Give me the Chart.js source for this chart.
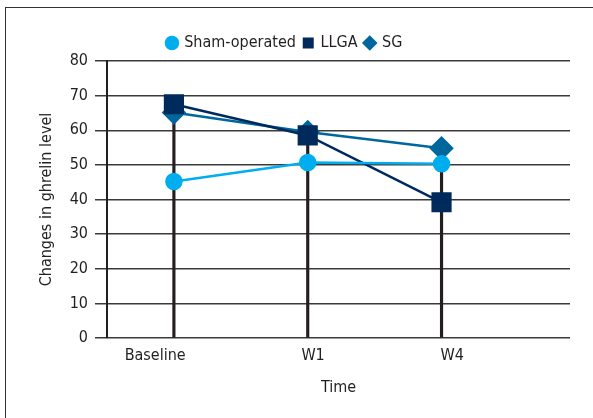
<!DOCTYPE html>
<html>
<head>
<meta charset="utf-8">
<script src="https://cdn.jsdelivr.net/npm/chart.js@4"></script>
<style>
    body { margin: 0; background: #fff; }
    #wrap { position: relative; width: 593px; height: 418px; overflow: hidden; }
    #frame { position: absolute; left: 5px; top: 7px; width: 600px; height: 420px; border: 1.5px solid #333; }
    #chart { position: absolute; left: 0; top: 0; }
</style>
</head>
<body>
<div id="wrap">
    <div id="frame"></div>
    <canvas id="chart" width="593" height="418"></canvas>
</div>
<script>
// 데이터
const timeLabels = ["Baseline", "W1", "W4"];
const shamValues = [45.2, 50.7, 50.3];
const llgaValues = [67.5, 58.5, 39.2];
const sgValues = [65.1, 59.5, 54.8];
const yTicks = [0, 10, 20, 30, 40, 50, 60, 70, 80];

const FONT = "'Liberation Sans Narrow', 'DejaVu Sans Condensed', 'Open Sans', sans-serif";
const labelShift = [-0.14, 0.04, 0.08]; // 눈금 라벨 위치 보정

const toPoints = arr => arr.map((v, i) => ({ x: i, y: v }));
const dropTop = timeLabels.map((_, i) => Math.max(shamValues[i], llgaValues[i], sgValues[i]));

new Chart(document.getElementById("chart"), {
    type: "line",
    data: {
        datasets: [
            {
                label: "Sham-operated",
                data: toPoints(shamValues),
                borderColor: "#00adee",
                backgroundColor: "#00adee",
                borderWidth: 2.5,
                pointStyle: "circle",
                pointRadius: 7.5,
                order: 1
            },
            {
                label: "LLGA",
                data: toPoints(llgaValues),
                borderColor: "#002a5c",
                backgroundColor: "#002a5c",
                borderWidth: 2.5,
                pointStyle: "rect",
                pointRadius: 12.5,
                order: 1
            },
            {
                label: "SG",
                data: toPoints(sgValues),
                borderColor: "#00679d",
                backgroundColor: "#00679d",
                borderWidth: 2.5,
                pointStyle: "rectRot",
                pointRadius: 10.5,
                order: 1
            },
            {
                type: "bar",
                label: "drop",
                data: toPoints(dropTop),
                backgroundColor: "#231f20",
                barThickness: 2.5,
                order: 10
            }
        ]
    },
    options: {
        responsive: false,
        animation: false,
        layout: { padding: { left: 0, right: 23, top: 27, bottom: 0 } },
        plugins: {
            tooltip: { enabled: false },
            legend: {
                labels: {
                    usePointStyle: true,
                    boxWidth: 8.5,
                    boxHeight: 8.5,
                    padding: 8,
                    color: "#231f20",
                    font: { family: FONT, size: 16 },
                    filter: item => item.text !== "drop"
                }
            }
        },
        scales: {
            x: {
                type: "linear",
                min: -0.5,
                max: 2.96,
                offset: false,
                afterBuildTicks: scale => {
                    scale.ticks = timeLabels.map((_, i) => ({ value: i + labelShift[i] }));
                },
                afterFit: scale => { scale.height = 80; },
                ticks: {
                    padding: 8,
                    color: "#231f20",
                    font: { family: FONT, size: 16 },
                    maxRotation: 0,
                    callback: (v, i) => timeLabels[i]
                },
                grid: { display: false, drawTicks: false },
                border: { display: false },
                title: {
                    display: true,
                    text: "Time",
                    color: "#231f20",
                    font: { family: FONT, size: 16 },
                    padding: { top: 0, bottom: 21 }
                }
            },
            y: {
                min: 0,
                max: 80,
                afterBuildTicks: scale => {
                    scale.ticks = yTicks.map(v => ({ value: v }));
                },
                afterFit: scale => { scale.width = 107; },
                ticks: {
                    padding: 7,
                    color: "#231f20",
                    font: { family: FONT, size: 16 }
                },
                grid: {
                    color: "#3a3a3a",
                    lineWidth: 1.5,
                    tickLength: 12
                },
                border: { color: "#231f20", width: 2 },
                title: {
                    display: true,
                    text: "Changes in ghrelin level",
                    color: "#231f20",
                    font: { family: FONT, size: 16 },
                    padding: { top: 37, bottom: 0 }
                }
            }
        }
    }
});
</script>
</body>
</html>
